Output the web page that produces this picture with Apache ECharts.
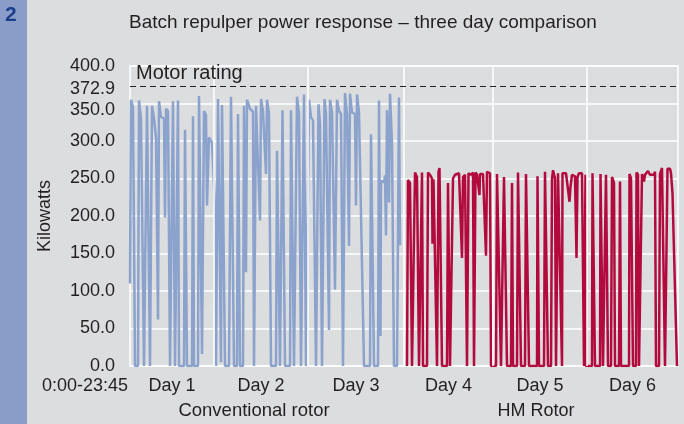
<!DOCTYPE html>
<html>
<head>
<meta charset="utf-8">
<script src="https://cdn.jsdelivr.net/npm/echarts@6/dist/echarts.min.js"></script>
<style>
  html, body { margin: 0; padding: 0; background: #dcdddf; }
  #chart { width: 684px; height: 424px; }
</style>
</head>
<body>
<div id="chart"></div>
<script>
// x = logged sample number across the six days, y = kilowatts
var dayBounds = [0, 84, 178, 274, 363, 457, 548];
var dayLabels = ['Day 1', 'Day 2', 'Day 3', 'Day 4', 'Day 5', 'Day 6'];
var yTicks = [0, 50, 100, 150, 200, 250, 300, 350, 372.9, 400];
var motorRating = 372.9;

// conventional rotor, days 1-3
var conventionalDay1 = [[0,110],[1,355],[3,345],[5,0],[8,0],[9,354],[11,330],[14,0],[16,0],[17,347],[19,347],[20,0],[21,0],[22,347],[24,330],[26,305],[28,62],[29,353],[31,332],[34,330],[35,198],[36,343],[38,340],[40,0],[42,0],[43,353],[45,0],[47,0],[48,354],[49,0],[54,0],[55,315],[57,0],[62,0],[63,333],[64,0],[68,0],[69,360],[72,16],[74,340],[76,335],[77,214],[79,305],[82,298],[84,298]];
var conventionalDay2 = [[85,211],[86,0],[87,0],[88,356],[91,5],[92,348],[95,0],[99,0],[101,359],[104,0],[107,0],[108,336],[110,0],[113,0],[114,347],[116,125],[117,355],[120,343],[123,339],[124,0],[125,0],[126,347],[130,194],[131,356],[133,340],[135,338],[136,256],[137,355],[139,336],[141,0],[146,0],[147,287],[150,0],[152,0],[152.5,341],[155,0],[160,0],[161,341],[164,0],[166,0],[167,359],[169,336],[171,0],[173,0],[174,362],[176,0],[178,0]];
var conventionalDay3 = [[179,355],[181,332],[183,327],[186,0],[188,0],[188.5,349],[190,323],[192,0],[194,0],[194.5,356],[196,336],[198,334],[199,48],[200,355],[202,338],[204,336],[205,102],[207,355],[209,340],[211,336],[213,0],[214,0],[215,364],[217,336],[219,160],[220,363],[222,338],[225,336],[226,214],[227,362],[229,338],[231,336],[234,0],[240,0],[241,309],[244,0],[248,0],[249,354],[250.5,40],[251,247],[254,245],[255,254],[256,174],[257,341],[259,218],[260,363],[262,296],[264,0],[267,0],[269,358],[270,161]];

// HM rotor, days 4-6
var hmDay4 = [[277,0],[278,248],[280,244],[282,0],[284,0],[285,258],[287,252],[288,250],[289,0],[291,0],[292,258],[293,0],[297,0],[298,258],[300,255],[302,250],[302.5,163],[303.5,249],[305,248],[307,0],[308,0],[308.5,259],[309.5,264],[311,266],[312,0],[317,0],[318,244],[320,0],[322,0],[323,250],[325,255],[327,255],[329,257],[331,258],[332,144],[333,252],[335,255],[337,0],[338,0],[338.5,257],[341,255],[343,258],[344,0],[345,0],[345.5,258],[347,255],[349,253],[349.5,228],[350,256],[353,256],[355,258],[356,147],[357,259],[360,257],[361,0]];
var hmDay5 = [[366,0],[367,256],[369,255],[371,0],[373,0],[374,252],[376,250],[377,0],[381,0],[382,244],[383,0],[387,0],[388,258],[391,0],[395,0],[396,256],[398,255],[399,0],[407,0],[407.5,253],[409,0],[414,0],[415,259],[416,257],[418,0],[421,0],[422,249],[423,261],[425,250],[426,0],[427,0],[428,257],[430,255],[432,0],[432.5,257],[434,255],[436,257],[438,255],[439.5,219],[440.5,239],[442,255],[445,253],[446.5,144],[447.5,252],[449,257],[451,258],[452,257],[454,0],[455,0],[455.5,255],[456,0]];
var hmDay6 = [[462,0],[462.5,257],[464,258],[465,0],[470,0],[470.5,256],[472,255],[473,0],[475,0],[476,255],[478,0],[481,0],[482,252],[484,244],[485,0],[489,0],[490,246],[491,0],[499,0],[499.5,256],[501,250],[503,0],[506,0],[506.5,258],[508,255],[509,0],[511,0],[512,256],[514,246],[515,255],[518,260],[520,255],[522,256],[524,255],[525,259],[526,0],[529,0],[530,256],[532,264],[534,263],[535,0],[537,0],[537.5,263],[540,263],[541,257],[542.5,230],[544,228],[547,0]];

var FONT = '"Liberation Sans", Arial, sans-serif';
var TXT = '#231f20';

var dayMids = [];
for (var i = 0; i < dayLabels.length; i++) {
  dayMids.push((dayBounds[i] + dayBounds[i + 1]) / 2);
}

var chart = echarts.init(document.getElementById('chart'));
var option = {
  backgroundColor: '#dcdddf',
  animation: false,
  textStyle: { fontFamily: FONT },
  title: {
    text: 'Batch repulper power response \u2013 three day comparison',
    left: 129,
    top: 13,
    padding: 0,
    textStyle: { fontSize: 19, fontWeight: 'normal', color: TXT, fontFamily: FONT }
  },
  grid: {
    left: 130, top: 66, width: 548, height: 300,
    show: true, backgroundColor: '#dcdddf', borderColor: '#ffffff', borderWidth: 1.5
  },
  xAxis: {
    type: 'value',
    min: dayBounds[0],
    max: dayBounds[dayBounds.length - 1],
    axisLine: { show: false },
    axisTick: { show: false },
    splitLine: { show: false },
    axisLabel: {
      customValues: dayMids,
      formatter: function (v) { return dayLabels[dayMids.indexOf(v)] || ''; },
      fontSize: 18, color: TXT, margin: 11
    }
  },
  yAxis: {
    type: 'value',
    min: 0, max: 400, interval: 50,
    name: 'Kilowatts',
    nameLocation: 'middle',
    nameGap: 76,
    nameTextStyle: { fontSize: 18, color: TXT },
    axisLine: { show: false },
    axisTick: { show: false },
    splitLine: { lineStyle: { color: '#ffffff', width: 1.5 } },
    axisLabel: {
      customValues: yTicks,
      formatter: function (v) {
        var s = v.toFixed(1);
        if (v === 350) return '{low|' + s + '}';
        if (v === motorRating) return '{mid|' + s + '}';
        return s;
      },
      rich: {
        low: { fontSize: 18, color: TXT, padding: [14, 0, 0, 0] },
        mid: { fontSize: 18, color: TXT, padding: [6, 0, 0, 0] }
      },
      fontSize: 18, color: TXT, margin: 15
    }
  },
  graphic: [
    { type: 'rect', left: 0, top: 0, shape: { width: 27, height: 424 }, style: { fill: '#8a9dc8' } },
    { type: 'text', x: 5, y: 5, style: { text: '2', fontSize: 21, fontWeight: 900, fontFamily: FONT, fill: '#1c3f8c' } },
    { type: 'text', x: 128, y: 386, style: { text: '0:00-23:45', fontSize: 18, fontFamily: FONT, fill: TXT, align: 'right', verticalAlign: 'middle' } },
    { type: 'text', x: 254, y: 411, style: { text: 'Conventional rotor', fontSize: 18.5, fontFamily: FONT, fill: TXT, align: 'center', verticalAlign: 'middle' } },
    { type: 'text', x: 536, y: 411, style: { text: 'HM Rotor', fontSize: 18, fontFamily: FONT, fill: TXT, align: 'center', verticalAlign: 'middle' } }
  ],
  series: [
    {
      name: 'day lines',
      type: 'line',
      data: [],
      z: 1,
      silent: true,
      markLine: {
        silent: true,
        symbol: 'none',
        label: { show: false },
        lineStyle: { color: '#ffffff', width: 1.5, type: 'solid' },
        data: dayBounds.slice(1, -1).map(function (x) { return { xAxis: x }; })
      }
    },
    {
      name: 'Conventional rotor',
      type: 'line',
      z: 3,
      showSymbol: false,
      lineStyle: { color: '#8ba2cc', width: 2.5 },
      itemStyle: { color: '#8ba2cc' },
      data: conventionalDay1.concat(conventionalDay2, conventionalDay3)
    },
    {
      name: 'HM Rotor',
      type: 'line',
      z: 3,
      showSymbol: false,
      lineStyle: { color: '#b30a3e', width: 2.5 },
      itemStyle: { color: '#b30a3e' },
      data: hmDay4.concat(hmDay5, hmDay6)
    },
    {
      name: 'Motor rating',
      type: 'line',
      data: [],
      z: 4,
      markLine: {
        silent: true,
        symbol: 'none',
        data: [
          {
            yAxis: motorRating,
            lineStyle: { color: '#222222', width: 1, type: [6, 4] },
            label: { show: true, position: 'insideStartTop', formatter: 'Motor rating', fontSize: 20, color: TXT, distance: [6, 3] }
          }
        ]
      }
    }
  ]
};
chart.setOption(option);
</script>
</body>
</html>
